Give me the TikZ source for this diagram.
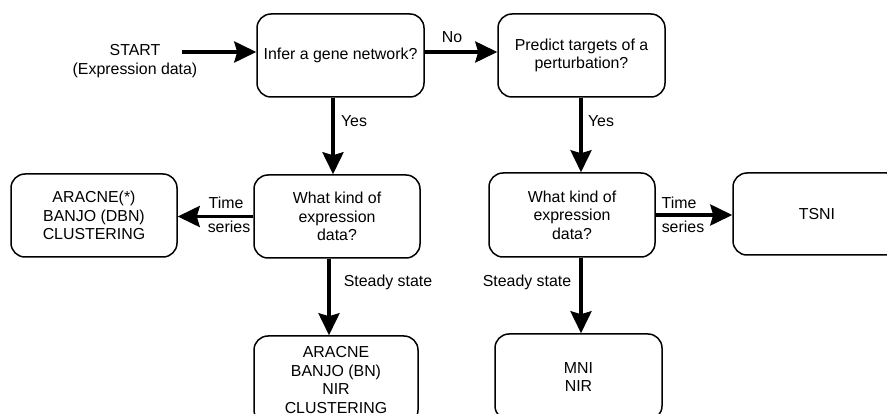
\documentclass[tikz,border=0pt]{standalone}
\usepackage{fontspec}
\setmainfont{Liberation Sans}
\usetikzlibrary{arrows.meta,calc}
\newcommand\figfont{\fontsize{15.9}{18.5}\selectfont}
\begin{document}
\begin{tikzpicture}[x=1pt,y=-1pt,
  box/.style={draw,line width=1.5pt,rounded corners=14pt,align=center,font=\figfont,inner sep=0pt},
  arr/.style={line width=3.5pt,-{Stealth[length=22pt,width=21pt,inset=3pt]}},
  lbl/.style={font=\figfont,inner sep=0pt,align=center}]
\useasboundingbox (0,0) rectangle (887,414);
\clip (0,0) rectangle (887,414);
% boxes
\node[box,minimum width=167pt,minimum height=83pt] (infer) at (340.5,55.5) {Infer a gene network?};
\node[box,minimum width=167pt,minimum height=83pt] (predict) at (581.5,55.5) {Predict targets of a\\perturbation?};
\node[box,minimum width=166pt,minimum height=83pt] (what1) at (337,216.5) {What kind of\\expression\\data?};
\node[box,minimum width=166pt,minimum height=83pt] (ts1) at (94,215.5) {ARACNE(*)\\BANJO (DBN)\\CLUSTERING};
\node[box,minimum width=164pt,minimum height=88pt] (ss1) at (336,380) {ARACNE\\BANJO (BN)\\NIR\\CLUSTERING};
\node[box,minimum width=166pt,minimum height=84pt] (what2) at (572,215) {What kind of\\expression\\data?};
\node[box,minimum width=168pt,minimum height=82pt] (ts2) at (817,214) {TSNI};
\node[box,minimum width=167pt,minimum height=86pt] (ss2) at (578.5,377) {MNI\\NIR};
% start
\node[lbl] (start) at (135,61) {START\\(Expression data)};
\coordinate (s0) at (182,52);
% arrows
\draw[arr] (s0) -- (s0 -| infer.west);
\draw[arr] ([yshift=3.5pt]infer.east) -- ([yshift=3.5pt]predict.west);
\draw[arr] (infer.south -| 333,0) -- (what1.north -| 333,0);
\draw[arr] (predict.south -| 581,0) -- (what2.north -| 581,0);
\draw[arr] (what1.west) -- (ts1.east |- what1.west);
\draw[arr] (what1.south -| 329,0) -- (ss1.north -| 329,0);
\draw[arr] (what2.east) -- (ts2.west |- what2.east);
\draw[arr] (what2.south -| 581,0) -- (ss2.north -| 581,0);
% labels
\node[lbl] (no) at (452,37) {No};
\node[lbl] (yes1) at (354,121) {Yes};
\node[lbl] (yes2) at (601,121) {Yes};
\node[lbl] (time1) at (226,203) {Time};
\node[lbl] (series1) at (229,227) {series};
\node[lbl] (time2) at (679,203) {Time};
\node[lbl] (series2) at (683,227) {series};
\node[lbl] (steady1) at (388,282) {Steady state};
\node[lbl] (steady2) at (527,282) {Steady state};
\end{tikzpicture}
\end{document}
